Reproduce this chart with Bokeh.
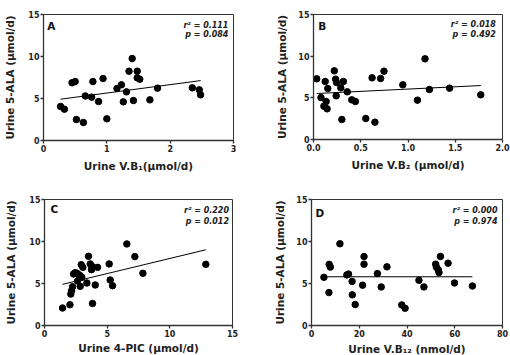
from bokeh.plotting import figure
from bokeh.layouts import column, row
from bokeh.models import Range1d, FixedTicker, Label
from bokeh.embed import file_html
from bokeh.resources import INLINE

FONT = "DejaVu Sans"

# ---------------- data ----------------
a_x = [0.27, 0.33, 0.45, 0.50, 0.52, 0.63, 0.66, 0.76, 0.78, 0.87, 0.94, 1.00, 1.16, 1.23,
       1.31, 1.26, 1.35, 1.40, 1.42, 1.48, 1.48, 1.52, 1.68, 1.80, 2.35, 2.46, 2.48]
a_y = [4.05, 3.73, 6.87, 7.02, 2.50, 2.14, 5.30, 5.16, 7.02, 4.64, 7.38, 2.58, 6.19, 6.63,
       5.79, 4.60, 8.25, 9.76, 4.76, 8.25, 7.46, 7.30, 4.84, 6.23, 6.27, 6.03, 5.44]
a_fit = (4.65, 1.00)          # intercept, slope
a_stats = ("0.111", "0.084")

b_x = [0.034, 0.079, 0.124, 0.134, 0.151, 0.110, 0.144, 0.220, 0.234, 0.244, 0.240, 0.289,
       0.316, 0.300, 0.357, 0.405, 0.443, 0.553, 0.620, 0.650, 0.710, 0.746, 0.945, 1.100,
       1.180, 1.227, 1.440, 1.770]
b_y = [7.28, 5.04, 6.96, 4.56, 6.12, 4.00, 3.68, 8.24, 7.24, 6.84, 5.24, 6.20, 6.96, 2.40,
       5.72, 4.76, 4.56, 2.52, 7.40, 2.08, 7.32, 8.20, 6.56, 4.72, 9.68, 6.00, 6.16, 5.36]
b_fit = (5.50, 0.55)
b_stats = ("0.018", "0.492")

c_x = [1.44, 2.03, 2.10, 2.16, 2.24, 2.32, 2.45, 2.61, 2.71, 2.85, 2.98, 2.64, 2.85, 3.38,
       2.93, 3.06, 3.51, 3.65, 3.78, 3.75, 4.23, 4.05, 3.83, 5.16, 5.24, 5.43, 6.57, 7.21,
       7.85, 12.87]
c_y = [2.08, 2.47, 3.74, 4.14, 4.62, 6.13, 6.29, 6.20, 6.05, 5.93, 5.73, 5.30, 4.66, 5.06,
       7.24, 6.92, 8.24, 7.33, 7.04, 6.65, 6.92, 4.82, 2.62, 7.33, 5.42, 4.74, 9.71, 8.20,
       6.21, 7.28]
c_fit = (4.38, 0.36)
c_stats = ("0.220", "0.012")

d_x = [5.2, 7.4, 7.9, 7.3, 11.9, 14.8, 15.5, 17.0, 17.1, 18.3, 21.4, 22.0, 22.0, 27.6,
       29.2, 31.6, 37.8, 39.2, 45.0, 47.1, 52.0, 52.3, 53.1, 53.4, 54.0, 57.2, 59.9, 67.4]
d_y = [5.74, 7.28, 6.95, 3.92, 9.73, 6.02, 6.12, 5.25, 3.65, 2.50, 4.80, 8.21, 7.30, 6.18,
       4.59, 6.98, 2.45, 2.05, 5.38, 4.59, 7.30, 6.95, 6.65, 6.30, 8.22, 7.42, 5.06, 4.70]
d_fit = (5.80, 0.0)
d_stats = ("0.000", "0.974")

y_ticks = [0, 5, 10, 15]
a_ticks = [0, 1, 2, 3]
b_ticks = [0, 0.5, 1.0, 1.5, 2.0]
b_tick_labels = ["0.0", "0.5", "1.0", "1.5", "2.0"]
c_ticks = [0, 5, 10, 15]
d_ticks = [0, 20, 40, 60, 80]

y_label = "Urine 5-ALA (\u00b5mol/d)"
a_label = "Urine V.B\u2081(\u00b5mol/d)"
b_label = "Urine V.B\u2082 (\u00b5mol/d)"
c_label = "Urine 4-PIC (\u00b5mol/d)"
d_label = "Urine V.B\u2081\u2082 (nmol/d)"


def panel(xs, ys, fit, stats, xticks, xlabels, xlabel, letter,
          fw, fh, left, right, top, bottom, ystand, xstand,
          stat_dx, stat_y1, stat_y2, let_x, let_y):
    xmax = xticks[-1]
    p = figure(frame_width=fw, frame_height=fh, output_backend="svg", toolbar_location=None,
               x_range=Range1d(0, xmax), y_range=Range1d(0, 15),
               min_border_left=left, min_border_right=right,
               min_border_top=top, min_border_bottom=bottom)
    p.grid.visible = False
    p.outline_line_color = "#333333"
    p.outline_line_width = 1
    p.background_fill_color = "white"
    p.border_fill_color = "white"

    for ax in (p.xaxis[0], p.yaxis[0]):
        ax.axis_line_color = "#333333"
        ax.axis_line_width = 1.3
        ax.major_tick_line_color = "#333333"
        ax.major_tick_line_width = 1.3
        ax.major_tick_out = 3
        ax.major_tick_in = 0
        ax.minor_tick_line_color = None
        ax.major_label_text_font = FONT
        ax.major_label_text_font_size = "8px"
        ax.major_label_text_font_style = "bold"
        ax.major_label_text_color = "#222222"
        ax.major_label_standoff = 1
        ax.axis_label_text_font = FONT
        ax.axis_label_text_font_size = "10.5px"
        ax.axis_label_text_font_style = "bold"
        ax.axis_label_text_color = "#222222"

    p.xaxis.ticker = FixedTicker(ticks=xticks)
    if xlabels is not None:
        p.xaxis.major_label_overrides = {t: s for t, s in zip(xticks, xlabels)}
    p.yaxis.ticker = FixedTicker(ticks=y_ticks)
    p.xaxis.axis_label = xlabel
    p.yaxis.axis_label = y_label
    p.yaxis.axis_label_standoff = ystand
    p.xaxis.axis_label_standoff = xstand

    b0, b1 = fit
    lx = [min(xs), max(xs)]
    p.line(lx, [b0 + b1 * v for v in lx], line_color="black", line_width=1)
    p.scatter(xs, ys, size=6.5, fill_color="black", line_color="black")

    xr = xmax - stat_dx
    p.add_layout(Label(x=xr, y=stat_y1, text="r\u00b2 = " + stats[0], text_align="right",
                       text_baseline="middle", text_font=FONT, text_font_size="8px",
                       text_font_style="bold italic", text_color="#222222"))
    p.add_layout(Label(x=xr, y=stat_y2, text="p = " + stats[1], text_align="right",
                       text_baseline="middle", text_font=FONT, text_font_size="8px",
                       text_font_style="bold italic", text_color="#222222"))
    p.add_layout(Label(x=let_x, y=let_y, text=letter, text_align="left",
                       text_baseline="middle", text_font=FONT, text_font_size="10.5px",
                       text_font_style="bold", text_color="#111111"))
    return p


pA = panel(a_x, a_y, a_fit, a_stats, a_ticks, None, a_label, "A",
           190, 126, 43, 22, 14, 38, 9, 5, 0.08, 13.69, 12.62, 0.06, 13.69)
pB = panel(b_x, b_y, b_fit, b_stats, b_ticks, b_tick_labels, b_label, "B",
           189, 125, 58, 8, 12, 41, 7, 5, 0.07, 13.84, 12.56, 0.05, 13.62)
pC = panel(c_x, c_y, c_fit, c_stats, c_ticks, None, c_label, "C",
           188, 126, 44, 23, 21, 30, 9, 2, 0.28, 13.75, 12.38, 0.48, 13.85)
pD = panel(d_x, d_y, d_fit, d_stats, d_ticks, None, d_label, "D",
           191, 126, 56, 8, 19, 32, 7, 3, 2.1, 13.75, 12.40, 1.7, 13.4)

layout = column(row(pA, pB), row(pC, pD))

open("out.html", "w").write(file_html(layout, INLINE))
